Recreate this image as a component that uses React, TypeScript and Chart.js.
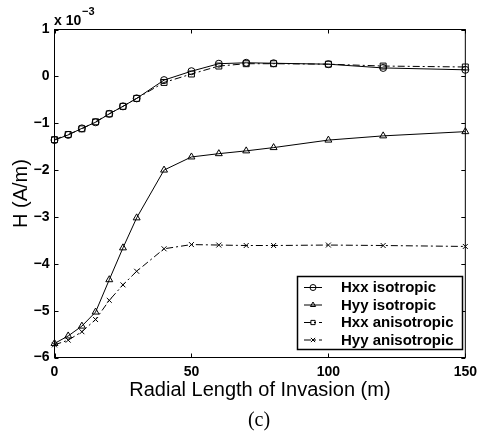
import React, { useEffect, useRef } from "react";
import { Chart, registerables } from "chart.js";

Chart.register(...registerables);

const xValues = [0, 5, 10, 15, 20, 25, 30, 40, 50, 60, 70, 80, 100, 120, 150];
const hxxIso = [-1.36, -1.25, -1.11, -0.98, -0.8, -0.64, -0.47, -0.08, 0.11, 0.27, 0.29, 0.28, 0.26, 0.18, 0.14];
const hyyIso = [-5.7, -5.54, -5.33, -5.03, -4.34, -3.66, -3.02, -2.0, -1.72, -1.65, -1.59, -1.52, -1.36, -1.27, -1.18];
const hxxAniso = [-1.35, -1.24, -1.12, -0.97, -0.8, -0.64, -0.47, -0.13, 0.05, 0.22, 0.27, 0.27, 0.26, 0.22, 0.2];
const hyyAniso = [-5.73, -5.63, -5.45, -5.19, -4.78, -4.45, -4.16, -3.68, -3.59, -3.6, -3.61, -3.61, -3.6, -3.61, -3.63];

const seriesLabels = ["Hxx isotropic", "Hyy isotropic", "Hxx anisotropic", "Hyy anisotropic"];
const xTicks = [0, 50, 100, 150];
const yTicks = [-6, -5, -4, -3, -2, -1, 0, 1];
const xTitle = "Radial Length of Invasion (m)";
const yTitle = "H (A/m)";
const caption = "(c)";

const DASHDOT = [7, 3, 2, 3];
const FONT = "'Liberation Sans', Arial, sans-serif";

function drawMarker(ctx: CanvasRenderingContext2D, style: string, x: number, y: number, r: number) {
  ctx.beginPath();
  if (style === "circle") {
    ctx.arc(x, y, r, 0, Math.PI * 2);
  } else if (style === "triangle") {
    for (let i = 0; i < 3; i++) {
      const a = (i * 2 * Math.PI) / 3;
      const px = x + Math.sin(a) * r;
      const py = y - Math.cos(a) * r;
      if (i === 0) ctx.moveTo(px, py);
      else ctx.lineTo(px, py);
    }
    ctx.closePath();
  } else if (style === "rect") {
    const s = Math.SQRT1_2 * r;
    ctx.rect(x - s, y - s, 2 * s, 2 * s);
  } else if (style === "crossRot") {
    const s = Math.SQRT1_2 * r;
    ctx.moveTo(x - s, y - s);
    ctx.lineTo(x + s, y + s);
    ctx.moveTo(x - s, y + s);
    ctx.lineTo(x + s, y - s);
  }
  ctx.stroke();
}

const framePlugin = {
  id: "framePlugin",
  afterDraw(chart: any) {
    const ctx: CanvasRenderingContext2D = chart.ctx;
    const { left, right, top, bottom } = chart.chartArea;
    const xs = chart.scales.x;
    const ys = chart.scales.y;
    ctx.save();
    ctx.strokeStyle = "#000";
    ctx.lineWidth = 1;
    ctx.setLineDash([]);
    ctx.strokeRect(left, top, right - left, bottom - top);
    const tl = 4;
    ctx.beginPath();
    for (const v of xTicks) {
      const px = Math.round(xs.getPixelForValue(v)) + 0.5;
      ctx.moveTo(px, bottom);
      ctx.lineTo(px, bottom - tl);
      ctx.moveTo(px, top);
      ctx.lineTo(px, top + tl);
    }
    for (const v of yTicks) {
      const py = Math.round(ys.getPixelForValue(v)) + 0.5;
      ctx.moveTo(left, py);
      ctx.lineTo(left + tl, py);
      ctx.moveTo(right, py);
      ctx.lineTo(right - tl, py);
    }
    ctx.stroke();

    // exponent label
    ctx.fillStyle = "#000";
    ctx.textAlign = "left";
    ctx.textBaseline = "alphabetic";
    ctx.font = `bold 14px ${FONT}`;
    ctx.fillText("x 10", 54, 24.5);
    ctx.font = `bold 11px ${FONT}`;
    ctx.fillText("\u22123", 82, 15);

    // caption
    ctx.font = "20px 'Liberation Serif', 'Times New Roman', serif";
    ctx.textAlign = "center";
    ctx.textBaseline = "middle";
    ctx.fillText(caption, 259, 421);

    // legend
    const bx = 297.5, by = 276.5, bw = 165, bh = 73;
    ctx.fillStyle = "#fff";
    ctx.fillRect(bx, by, bw, bh);
    ctx.lineWidth = 1.5;
    ctx.strokeRect(bx, by, bw, bh);
    ctx.lineWidth = 1;
    chart.data.datasets.forEach((ds: any, i: number) => {
      const cy = 287.5 + i * 17.5;
      ctx.strokeStyle = "#000";
      ctx.setLineDash(ds.borderDash || []);
      ctx.beginPath();
      ctx.moveTo(304, cy);
      ctx.lineTo(322, cy);
      ctx.stroke();
      ctx.setLineDash([]);
      drawMarker(ctx, ds.pointStyle, 313, cy, 3);
      ctx.fillStyle = "#000";
      ctx.font = `bold 15px ${FONT}`;
      ctx.textAlign = "left";
      ctx.textBaseline = "middle";
      ctx.fillText(ds.label, 341, cy + 0.5);
    });
    ctx.restore();
  },
};

function makeDataset(label: string, values: number[], pointStyle: string, dashed: boolean, radius: number) {
  return {
    label,
    data: xValues.map((x, i) => ({ x, y: values[i] })),
    borderColor: "#000",
    borderWidth: 1,
    borderDash: dashed ? DASHDOT : [],
    pointStyle,
    pointRadius: radius,
    pointBorderColor: "#000",
    pointBackgroundColor: "transparent",
    pointBorderWidth: 1,
    fill: false,
    tension: 0,
    clip: false,
  };
}

export default function App() {
  const canvasRef = useRef<HTMLCanvasElement | null>(null);
  useEffect(() => {
    if (!canvasRef.current) return;
    const chart = new Chart(canvasRef.current, {
      type: "line",
      data: {
        datasets: [
          makeDataset(seriesLabels[0], hxxIso, "circle", false, 3.5),
          makeDataset(seriesLabels[1], hyyIso, "triangle", false, 4),
          makeDataset(seriesLabels[2], hxxAniso, "rect", true, 4.2),
          makeDataset(seriesLabels[3], hyyAniso, "crossRot", true, 3.5),
        ] as any,
      },
      options: {
        animation: false,
        responsive: false,
        devicePixelRatio: 1,
        layout: { padding: { left: 0, right: 13.5, top: 29.5, bottom: 30.5 } },
        plugins: { legend: { display: false }, tooltip: { enabled: false } },
        scales: {
          x: {
            type: "linear",
            min: 0,
            max: 150,
            afterFit: (s: any) => {
              s.height = 48;
            },
            afterBuildTicks: (s: any) => {
              s.ticks = xTicks.map((v) => ({ value: v }));
            },
            grid: { display: false, drawTicks: false },
            border: { display: false },
            ticks: {
              padding: 6,
              color: "#000",
              font: { family: FONT, size: 14, weight: "bold" },
              callback: (v: any) => String(v),
            },
            title: {
              display: true,
              text: xTitle,
              color: "#000",
              padding: { top: 0, bottom: 3.5 },
              font: { family: FONT, size: 20 },
            },
          },
          y: {
            type: "linear",
            min: -6,
            max: 1,
            afterFit: (s: any) => {
              s.width = 54.5;
            },
            afterBuildTicks: (s: any) => {
              s.ticks = yTicks.map((v) => ({ value: v }));
            },
            grid: { display: false, drawTicks: false },
            border: { display: false },
            ticks: {
              padding: 5,
              color: "#000",
              font: { family: FONT, size: 14, weight: "bold" },
              callback: (v: any) => (Number(v) < 0 ? "\u2212" + Math.abs(Number(v)) : String(v)),
            },
            title: {
              display: true,
              text: yTitle,
              color: "#000",
              padding: { top: 9, bottom: 0 },
              font: { family: FONT, size: 20 },
            },
          },
        },
      } as any,
      plugins: [framePlugin],
    });
    return () => chart.destroy();
  }, []);
  return (
    <div style={{ position: "absolute", left: 0, top: 0, width: 483, height: 436, background: "#fff" }}>
      <canvas ref={canvasRef} width={483} height={436} style={{ display: "block" }} />
    </div>
  );
}
